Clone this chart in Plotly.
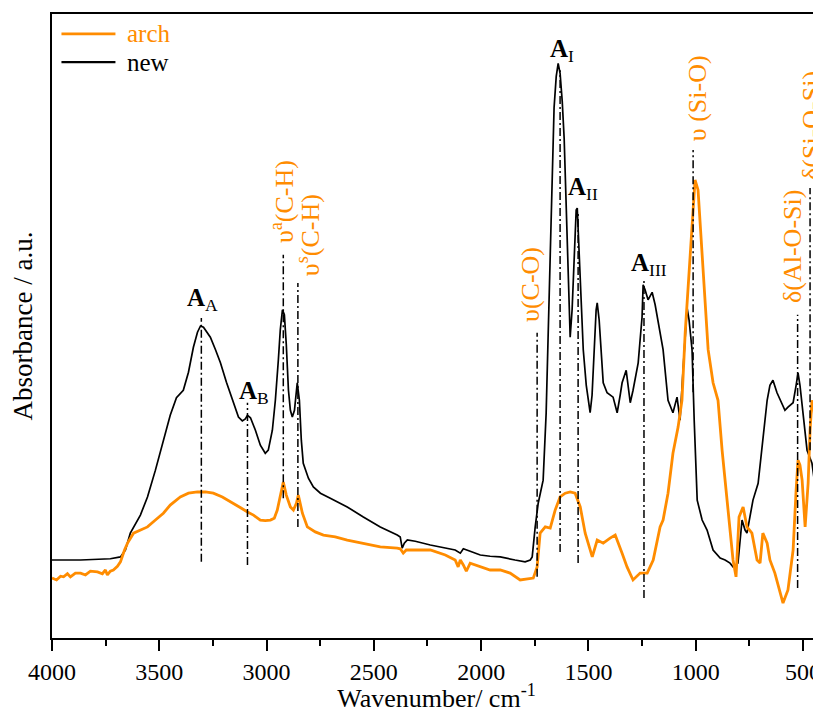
import plotly.graph_objects as go

# ---------------- data ----------------
new_wn = [4000,3867,3728,3681,3658,3635,3588,3555,3518,3481,
          3449,3420,3388,3364,3341,3322,3308,3294,3262,3238,
          3215,3187,3155,3131,3113,3099,3089,3075,3052,3029,
          3006,2992,2973,2959,2945,2936,2926,2917,2908,2898,
          2889,2880,2870,2861,2857,2847,2838,2829,2805,2782,
          2749,2703,2624,2549,2470,2391,2377,2368,2358,2344,
          2307,2237,2167,2121,2097,2083,2051,2004,1958,1911,
          1842,1795,1771,1762,1748,1734,1711,1697,1688,1678,
          1669,1660,1650,1641,1632,1622,1613,1604,1594,1585,
          1576,1566,1557,1552,1548,1538,1524,1510,1492,1483,
          1473,1464,1459,1450,1431,1413,1385,1366,1352,1343,
          1324,1305,1292,1268,1259,1250,1245,1236,1222,1213,
          1203,1189,1175,1152,1129,1106,1087,1073,1059,1049,
          1040,1031,1017,1007,993,970,947,919,886,863,
          840,826,803,784,770,761,733,709,691,667,
          654,640,621,593,584,570,560,546,532,523,
          514,500,481,458,435,416]
new_abs = [.125,.125,.127,.130,.141,.168,.197,.226,.269,.317,
           .357,.385,.397,.426,.466,.490,.500,.498,.482,.462,
           .441,.410,.377,.354,.348,.351,.357,.353,.333,.309,
           .296,.301,.333,.381,.446,.494,.526,.518,.470,.397,
           .365,.354,.365,.397,.409,.381,.317,.280,.256,.242,
           .232,.224,.210,.194,.178,.165,.162,.144,.152,.157,
           .155,.149,.144,.141,.136,.143,.139,.133,.131,.130,
           .125,.122,.125,.130,.178,.216,.253,.360,.480,.620,
           .750,.850,.900,.921,.905,.860,.800,.700,.580,.482,
           .526,.622,.686,.689,.654,.558,.462,.405,.361,.389,
           .462,.526,.537,.510,.409,.393,.386,.361,.389,.409,
           .429,.377,.397,.441,.478,.514,.566,.558,.542,.548,
           .554,.534,.505,.462,.381,.361,.386,.349,.429,.489,
           .529,.510,.462,.349,.221,.189,.173,.141,.128,.125,
           .120,.114,.120,.189,.173,.168,.221,.248,.301,.381,
           .405,.413,.393,.370,.365,.370,.373,.377,.405,.425,
           .405,.365,.301,.280,.221,.173]

arch_wn = [4000,3979,3960,3946,3928,3914,3891,3867,3844,3821,
           3788,3765,3751,3742,3728,3714,3695,3681,3662,3648,
           3620,3588,3555,3518,3481,3449,3402,3364,3322,3285,
           3248,3206,3164,3117,3089,3061,3029,3006,2982,2964,
           2950,2936,2922,2908,2889,2875,2861,2852,2843,2833,
           2810,2773,2735,2680,2624,2549,2470,2391,2377,2363,
           2349,2316,2237,2167,2121,2107,2097,2083,2069,2051,
           2004,1958,1911,1865,1818,1785,1757,1739,1725,1701,
           1678,1655,1632,1608,1585,1562,1538,1515,1482,1459,
           1431,1399,1375,1343,1320,1292,1259,1226,1198,1166,
           1152,1129,1106,1082,1064,1049,1040,1026,1012,1003,
           989,970,956,942,919,896,877,854,826,812,
           798,779,761,738,714,700,687,667,654,631,
           607,593,570,546,532,523,514,504,490,476,
           467,458,448,435,416]
arch_abs = [.096,.093,.099,.098,.103,.098,.104,.104,.101,.107,
            .106,.103,.109,.101,.107,.109,.115,.122,.141,.152,
            .168,.173,.178,.189,.200,.213,.226,.232,.234,.234,
            .232,.226,.218,.208,.202,.197,.189,.188,.189,.192,
            .205,.229,.250,.229,.210,.205,.216,.229,.213,.200,
            .178,.170,.165,.162,.157,.152,.146,.144,.143,.136,
            .141,.141,.141,.133,.125,.114,.125,.117,.107,.120,
            .114,.109,.109,.104,.093,.095,.096,.114,.168,.178,
            .176,.205,.226,.232,.234,.232,.210,.168,.130,.157,
            .152,.160,.165,.136,.114,.093,.104,.104,.125,.178,
            .189,.232,.296,.338,.381,.489,.537,.617,.702,.734,
            .718,.617,.526,.462,.409,.381,.301,.221,.125,.098,
            .194,.210,.178,.168,.125,.120,.168,.152,.125,.104,
            .072,.056,.077,.141,.237,.285,.277,.253,.178,.248,
            .333,.381,.365,.301,.221]

# band marker lines: position, top, bottom
band_wn = [3304, 3089, 2922, 2854, 1739, 1632, 1548, 1241, 1012, 525, 467]
band_top = [0.513, 0.377, 0.614, 0.569, 0.489, 0.910, 0.681, 0.574, 0.782, 0.518, 0.721]
band_bot = [0.122, 0.117, 0.224, 0.178, 0.098, 0.138, 0.120, 0.064, 0.394, 0.080, 0.301]

# black peak labels
peak_text = ["<b>A</b><sub>A</sub>", "<b>A</b><sub>B</sub>", "<b>A</b><sub>I</sub>",
             "<b>A</b><sub>II</sub>", "<b>A</b><sub>III</sub>"]
peak_wn = [3299, 3057, 1622, 1524, 1217]
peak_y = [0.542, 0.394, 0.942, 0.720, 0.598]

# orange vibration labels (rotated)
vib_text = ["υ<sup>a</sup>(C-H)", "υ<sup>s</sup>(C-H)", "υ(C-O)", "υ (Si-O)",
            "δ(Al-O-Si)", "δ(Si-O-Si)"]
vib_wn = [2922, 2801, 1767, 994, 552, 463]
vib_y = [0.699, 0.646, 0.566, 0.865, 0.628, 0.822]

x_ticks = [4000, 3500, 3000, 2500, 2000, 1500, 1000, 500]
x_minor = [3750, 3250, 2750, 2250, 1750, 1250, 750]

ORANGE = "#FF8C00"
FONT = "Liberation Serif"

fig = go.Figure()
fig.add_trace(go.Scatter(x=new_wn, y=new_abs, mode="lines", name="new",
                         line=dict(color="black", width=1.7)))
fig.add_trace(go.Scatter(x=arch_wn, y=arch_abs, mode="lines", name="arch",
                         line=dict(color=ORANGE, width=2.8)))

shapes = []
for w, t, b in zip(band_wn, band_top, band_bot):
    shapes.append(dict(type="line", xref="x", yref="y", x0=w, x1=w, y0=b, y1=t,
                       line=dict(color="black", width=1.5, dash="8px,3px,2px,3px")))

# manual legend (longer sample lines as in reference)
legend_items = [("arch", ORANGE, 2.8, 0.968), ("new", "black", 2.2, 0.923)]
annotations = []
for name, col, wid, yy in legend_items:
    shapes.append(dict(type="line", xref="paper", yref="paper", x0=0.0123, x1=0.0825,
                       y0=yy, y1=yy, line=dict(color=col, width=wid)))
    annotations.append(dict(xref="paper", yref="paper", x=0.095, y=yy, text=name,
                            showarrow=False, xanchor="left", yanchor="middle",
                            font=dict(family=FONT, size=25, color=col)))

for t, w, yy in zip(peak_text, peak_wn, peak_y):
    annotations.append(dict(x=w, y=yy, xref="x", yref="y", text=t, showarrow=False,
                            xanchor="center", yanchor="middle",
                            font=dict(family=FONT, size=25, color="black")))
for t, w, yy in zip(vib_text, vib_wn, vib_y):
    annotations.append(dict(x=w, y=yy, xref="x", yref="y", text=t, showarrow=False,
                            textangle=-90, xanchor="center", yanchor="middle",
                            font=dict(family=FONT, size=26, color=ORANGE)))

# page body has an 8px margin: size the figure so it fits the 821x713 window
fig.update_layout(
    width=813, height=705,
    margin=dict(l=44, r=0, t=6, b=75),
    plot_bgcolor="white", paper_bgcolor="white",
    showlegend=False,
    font=dict(family=FONT, color="black"),
    shapes=shapes, annotations=annotations,
    xaxis=dict(range=[4000, 416], tickmode="array", tickvals=x_ticks,
               ticktext=[str(v) for v in x_ticks],
               ticks="outside", ticklen=11, tickwidth=2, tickcolor="black",
               minor=dict(tickmode="array", tickvals=x_minor, ticks="outside",
                          ticklen=6, tickwidth=2, tickcolor="black", showgrid=False),
               showline=True, linewidth=2, linecolor="black", mirror=True,
               showgrid=False, zeroline=False,
               tickfont=dict(family=FONT, size=24, color="black"),
               title=dict(text="Wavenumber/ cm<sup>-1</sup>", standoff=3,
                          font=dict(family=FONT, size=26, color="black"))),
    yaxis=dict(range=[0, 1], showticklabels=False, ticks="",
               showline=True, linewidth=2, linecolor="black",
               showgrid=False, zeroline=False,
               title=dict(text="Absorbance / a.u.", standoff=12,
                          font=dict(family=FONT, size=27, color="black"))),
)

fig.write_html("out.html")
